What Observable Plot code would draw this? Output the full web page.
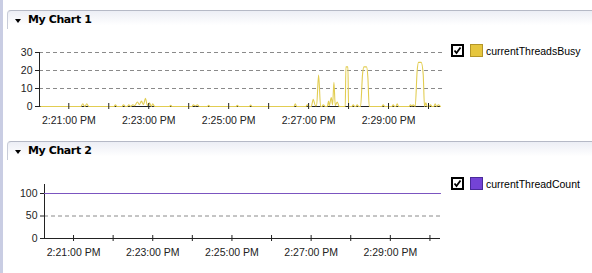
<!DOCTYPE html>
<html><head><meta charset="utf-8">
<script src="https://cdn.jsdelivr.net/npm/d3@7"></script>
<script src="https://cdn.jsdelivr.net/npm/@observablehq/plot@0.6"></script>
<style>
html,body{margin:0;padding:0;background:#fff}
body{width:592px;height:273px;overflow:hidden;position:relative;font-family:"Liberation Sans",Arial,sans-serif}
.strip{position:absolute;left:0;top:0;width:3px;height:273px;background:#c9cde3}
.hdr{position:absolute;left:7px;width:585px;height:18px;border-top:1px solid #b5b9c6;border-left:1px solid #c8ccd8;border-top-left-radius:4px;background:linear-gradient(#eceef5,#ffffff 80%)}
.tri{position:absolute;left:7px;top:8px;width:0;height:0;border-left:3.5px solid transparent;border-right:3.5px solid transparent;border-top:4px solid #000}
.title{position:absolute;left:20px;top:2px;font:bold 11px "DejaVu Sans";letter-spacing:-0.4px;color:#000}
.plot{position:absolute;left:0}
.legend{position:absolute;left:451px;height:13px;display:flex;align-items:center;font-size:10.5px;color:#000}
.cb{box-sizing:border-box;width:13px;height:13px;border:2px solid #000;background:#fff;position:relative}
.cb svg{position:absolute;left:0;top:0}
.sw{box-sizing:border-box;width:13px;height:13px;margin-left:6px;margin-right:3px}
</style></head>
<body>
<div class="strip"></div>
<div class="hdr" style="top:10px"><div class="tri"></div><div class="title">My Chart 1</div></div>
<div class="hdr" style="top:141px"><div class="tri"></div><div class="title">My Chart 2</div></div>
<div id="c1" class="plot" style="top:40px"></div>
<div id="c2" class="plot" style="top:170px"></div>
<div class="legend" style="top:44px"><div class="cb"><svg width="9" height="9"><path d="M1.5,4.5 L3.5,7 L7.5,1.5" fill="none" stroke="#000" stroke-width="1.8"/></svg></div><div class="sw" style="background:#e6c63e;border:1px solid #b49628"></div><span>currentThreadsBusy</span></div>
<div class="legend" style="top:177px"><div class="cb"><svg width="9" height="9"><path d="M1.5,4.5 L3.5,7 L7.5,1.5" fill="none" stroke="#000" stroke-width="1.8"/></svg></div><div class="sw" style="background:#7443d6;border:1px solid #4a2a9a"></div><span>currentThreadCount</span></div>
<script>
const busyTimes = ["14:20:18","14:21:18","14:21:21","14:21:24","14:21:27","14:21:30","14:22:08","14:22:10","14:22:12","14:22:20","14:22:22","14:22:25","14:22:28","14:22:30","14:22:33","14:22:36","14:22:39","14:22:43","14:22:46","14:22:49","14:22:52","14:22:55","14:22:58","14:23:01","14:23:04","14:23:06","14:23:09","14:23:31","14:23:33","14:23:35","14:24:05","14:24:07","14:24:10","14:24:13","14:24:16","14:24:28","14:24:30","14:24:32","14:25:11","14:25:13","14:25:15","14:25:31","14:25:33","14:25:35","14:26:38","14:26:40","14:26:42","14:26:56","14:26:58","14:27:00","14:27:04","14:27:07","14:27:10","14:27:12","14:27:15","14:27:18","14:27:20","14:27:22","14:27:25","14:27:28","14:27:30","14:27:31","14:27:34","14:27:36","14:27:38","14:27:40","14:27:43","14:27:46","14:27:55","14:27:56","14:27:59","14:28:00","14:28:05","14:28:07","14:28:09","14:28:11","14:28:13","14:28:15","14:28:18","14:28:21","14:28:23","14:28:27","14:28:29","14:28:31","14:28:50","14:28:52","14:28:54","14:29:05","14:29:07","14:29:09","14:29:11","14:29:13","14:29:15","14:29:31","14:29:33","14:29:35","14:29:37","14:29:40","14:29:43","14:29:45","14:29:49","14:29:52","14:29:54","14:29:56","14:29:58","14:30:01","14:30:03","14:30:05","14:30:08","14:30:10","14:30:12","14:30:15","14:30:18"];
const busyValues = [0,0,1.5,0,1.5,0,0,1,0,0,1,0,0,1,0,1,0.5,2.5,1,3,1,4.5,0.5,2,0,1.5,0,0,0.7,0,0,1,0.3,1,0,0,0.7,0,0,0.7,0,0,0.8,0,0,1.5,0,0,1,0,0,4,0.5,0.5,17.5,0,0,1,0,0,3,0.5,5,1,13.5,0.5,2.5,0,0,22,22,0,0,1,0,0,1,0,0,18,22,22,16,0,0,1,0,0,1,0,0,1.5,0,0,1,0.3,1,0,20,24.5,24.5,18,0,2,0,0,1,0,0,1.5,0,1,0];
const countTimes = ["14:20:16","14:30:16"];
const countValues = [100,100];
const minuteTicks = ["14:21:00","14:22:00","14:23:00","14:24:00","14:25:00","14:26:00","14:27:00","14:28:00","14:29:00","14:30:00"];
const labelTicks = ["14:21:00","14:23:00","14:25:00","14:27:00","14:29:00"];
const busyYTicks = [0,10,20,30];
const countYTicks = [0,50,100];
const busyDomainX = ["14:20:16","14:30:18"];
const countDomainX = ["14:20:16","14:30:16"];

const parse = d3.timeParse("%H:%M:%S");
const fmt = d3.timeFormat("%-I:%M:%S %p");
const busy = busyTimes.map((t,i)=>({time: parse(t), value: busyValues[i]}));
const count = countTimes.map((t,i)=>({time: parse(t), value: countValues[i]}));

function chart({data, domainX, domainY, yTicks, ml, mt, mb, color, grid, padX}) {
  const h = 95, plotH = h - mt - mb;
  return Plot.plot({
    width: 450, height: h, marginLeft: ml, marginRight: 10, marginTop: mt, marginBottom: mb,
    style: {fontFamily: '"Liberation Sans", Arial, sans-serif', fontSize: "10.5px", color: "#222", background: "transparent", overflow: "visible"},
    x: {type: "time", domain: domainX.map(parse), label: null},
    y: {domain: domainY, label: null},
    marks: [
      Plot.ruleY(grid, {stroke: "#8a8a8a", strokeDasharray: "4,3", insetRight: -2}),
      Plot.ruleY([0], {stroke: "#222"}),
      Plot.ruleX([parse(domainX[0])], {stroke: "#222"}),
      Plot.line(data, {x: "time", y: "value", stroke: color, strokeWidth: 1.1, curve: "monotone-x"}),
      Plot.tickX(minuteTicks.map(parse), {x: d => d, insetTop: plotH - 3, insetBottom: -3, stroke: "#222"}),
      Plot.axisY({ticks: yTicks, tickSize: 4, tickPadding: 3, stroke: "#222"}),
      Plot.axisX({ticks: labelTicks.map(parse), tickSize: 0, tickPadding: padX, tickFormat: fmt})
    ]
  });
}

document.getElementById("c1").append(chart({data: busy, domainX: busyDomainX, domainY: [0,30], yTicks: busyYTicks, ml: 39, mt: 12, mb: 29, color: "#e2cd52", grid: [10,20,30], padX: 10}));
document.getElementById("c2").append(chart({data: count, domainX: countDomainX, domainY: [0,120], yTicks: countYTicks, ml: 44, mt: 14, mb: 27, color: "#7b55c0", grid: [50], padX: 10.5}));
</script>
</body></html>
